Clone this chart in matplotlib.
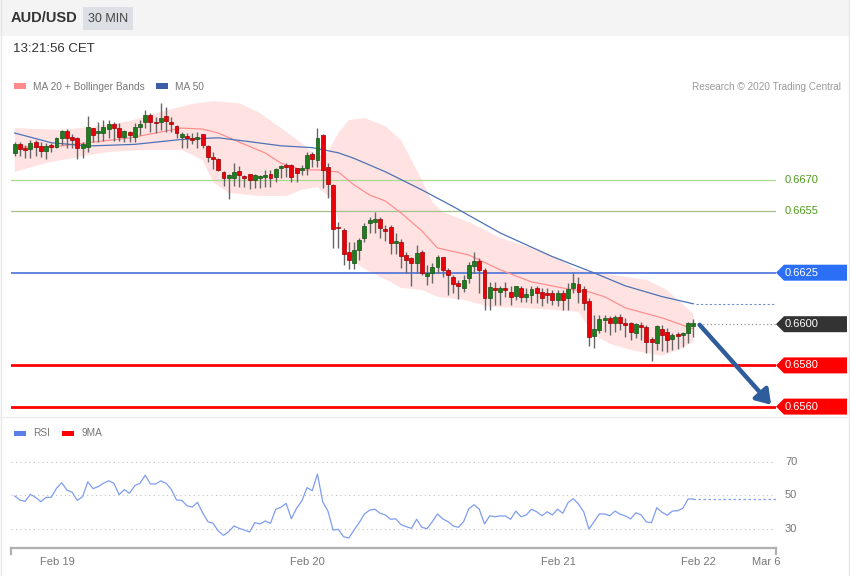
import matplotlib
matplotlib.use('Agg')
import matplotlib.pyplot as plt
import matplotlib.transforms as mtransforms
from matplotlib.patches import Polygon, Rectangle
from matplotlib.lines import Line2D
import numpy as np

plt.rcParams['font.family'] = ['Liberation Sans', 'DejaVu Sans']

# AUD/USD 30 min candles
opens = [0.66829, 0.66873, 0.66857, 0.66852, 0.66884, 0.66866, 0.66841, 0.66870, 0.66862, 0.66902,
         0.66938, 0.66910, 0.66902, 0.66854, 0.66862, 0.66951, 0.66926, 0.66929, 0.66947, 0.66970,
         0.66951, 0.66910, 0.66934, 0.66910, 0.66959, 0.66983, 0.67015, 0.66980, 0.66983, 0.67010,
         0.66983, 0.66963, 0.66910, 0.66913, 0.66902, 0.66899, 0.66922, 0.66866, 0.66810, 0.66800,
         0.66737, 0.66711, 0.66711, 0.66744, 0.66719, 0.66728, 0.66700, 0.66711, 0.66716, 0.66728,
         0.66716, 0.66760, 0.66773, 0.66773, 0.66757, 0.66749, 0.66760, 0.66825, 0.66797, 0.66918,
         0.66762, 0.66676, 0.66474, 0.66458, 0.66352, 0.66299, 0.66360, 0.66417, 0.66490, 0.66498,
         0.66509, 0.66462, 0.66471, 0.66393, 0.66401, 0.66336, 0.66320, 0.66299, 0.66352, 0.66236,
         0.66247, 0.66280, 0.66325, 0.66263, 0.66231, 0.66202, 0.66175, 0.66223, 0.66283, 0.66309,
         0.66263, 0.66126, 0.66175, 0.66158, 0.66175, 0.66158, 0.66137, 0.66175, 0.66134, 0.66142,
         0.66175, 0.66158, 0.66150, 0.66150, 0.66118, 0.66150, 0.66126, 0.66175, 0.66194, 0.66170,
         0.66115, 0.65943, 0.65973, 0.66018, 0.66029, 0.66008, 0.66037, 0.66008, 0.66005, 0.65959,
         0.65997, 0.65986, 0.65927, 0.65908, 0.65976, 0.65964, 0.65927, 0.65953, 0.65948, 0.65956,
         0.65989]
highs = [0.66886, 0.66886, 0.66870, 0.66894, 0.66894, 0.66886, 0.66878, 0.66878, 0.66910, 0.66943,
         0.66947, 0.66922, 0.66910, 0.66886, 0.67010, 0.66954, 0.66983, 0.66991, 0.66991, 0.66983,
         0.66975, 0.66943, 0.66940, 0.66975, 0.66991, 0.67040, 0.67023, 0.67007, 0.67072, 0.67056,
         0.67007, 0.66967, 0.66934, 0.66926, 0.66926, 0.66934, 0.66925, 0.66870, 0.66837, 0.66805,
         0.66744, 0.66730, 0.66781, 0.66769, 0.66724, 0.66730, 0.66728, 0.66724, 0.66749, 0.66749,
         0.66757, 0.66773, 0.66781, 0.66776, 0.66760, 0.66773, 0.66834, 0.66837, 0.66951, 0.66925,
         0.66781, 0.66680, 0.66498, 0.66467, 0.66401, 0.66401, 0.66417, 0.66490, 0.66522, 0.66546,
         0.66519, 0.66482, 0.66482, 0.66441, 0.66412, 0.66352, 0.66328, 0.66385, 0.66360, 0.66288,
         0.66296, 0.66336, 0.66328, 0.66272, 0.66239, 0.66215, 0.66239, 0.66304, 0.66352, 0.66320,
         0.66272, 0.66207, 0.66207, 0.66183, 0.66207, 0.66183, 0.66186, 0.66183, 0.66175, 0.66183,
         0.66183, 0.66175, 0.66175, 0.66166, 0.66166, 0.66166, 0.66202, 0.66247, 0.66231, 0.66183,
         0.66128, 0.66045, 0.66045, 0.66045, 0.66040, 0.66045, 0.66050, 0.66029, 0.66013, 0.66005,
         0.66013, 0.65997, 0.65940, 0.65997, 0.65997, 0.65981, 0.65956, 0.65964, 0.65964, 0.66013,
         0.66024]
lows = [0.66816, 0.66816, 0.66808, 0.66808, 0.66816, 0.66812, 0.66802, 0.66837, 0.66857, 0.66870,
        0.66857, 0.66857, 0.66800, 0.66808, 0.66834, 0.66886, 0.66886, 0.66889, 0.66902, 0.66889,
        0.66889, 0.66886, 0.66886, 0.66886, 0.66918, 0.66951, 0.66934, 0.66926, 0.66943, 0.66934,
        0.66934, 0.66902, 0.66857, 0.66854, 0.66873, 0.66854, 0.66854, 0.66789, 0.66753, 0.66744,
        0.66672, 0.66608, 0.66672, 0.66668, 0.66668, 0.66656, 0.66660, 0.66660, 0.66668, 0.66668,
        0.66689, 0.66708, 0.66716, 0.66689, 0.66689, 0.66724, 0.66724, 0.66765, 0.66765, 0.66660,
        0.66611, 0.66369, 0.66369, 0.66288, 0.66267, 0.66267, 0.66312, 0.66401, 0.66441, 0.66441,
        0.66417, 0.66406, 0.66341, 0.66341, 0.66272, 0.66247, 0.66183, 0.66250, 0.66239, 0.66191,
        0.66199, 0.66247, 0.66231, 0.66142, 0.66150, 0.66121, 0.66158, 0.66199, 0.66247, 0.66150,
        0.66070, 0.66070, 0.66094, 0.66094, 0.66134, 0.66094, 0.66118, 0.66110, 0.66110, 0.66102,
        0.66102, 0.66086, 0.66102, 0.66094, 0.66086, 0.66070, 0.66070, 0.66150, 0.66102, 0.66070,
        0.65892, 0.65884, 0.65956, 0.65964, 0.65948, 0.65964, 0.65973, 0.65940, 0.65924, 0.65932,
        0.65924, 0.65860, 0.65819, 0.65875, 0.65872, 0.65867, 0.65875, 0.65879, 0.65889, 0.65908,
        0.65937]
closes = [0.66873, 0.66850, 0.66846, 0.66881, 0.66862, 0.66841, 0.66866, 0.66862, 0.66905, 0.66938,
          0.66902, 0.66894, 0.66857, 0.66873, 0.66956, 0.66918, 0.66938, 0.66957, 0.66970, 0.66951,
          0.66910, 0.66938, 0.66918, 0.66957, 0.66970, 0.67015, 0.66980, 0.66975, 0.66999, 0.66988,
          0.66970, 0.66926, 0.66922, 0.66902, 0.66894, 0.66910, 0.66870, 0.66813, 0.66800, 0.66749,
          0.66711, 0.66724, 0.66740, 0.66724, 0.66708, 0.66700, 0.66724, 0.66719, 0.66724, 0.66711,
          0.66753, 0.66769, 0.66765, 0.66716, 0.66732, 0.66760, 0.66821, 0.66802, 0.66905, 0.66749,
          0.66681, 0.66461, 0.66466, 0.66341, 0.66312, 0.66360, 0.66409, 0.66477, 0.66506, 0.66509,
          0.66466, 0.66454, 0.66396, 0.66404, 0.66331, 0.66312, 0.66299, 0.66347, 0.66247, 0.66247,
          0.66280, 0.66328, 0.66263, 0.66239, 0.66196, 0.66186, 0.66215, 0.66288, 0.66309, 0.66263,
          0.66126, 0.66180, 0.66166, 0.66175, 0.66166, 0.66134, 0.66183, 0.66134, 0.66147, 0.66170,
          0.66150, 0.66126, 0.66142, 0.66118, 0.66150, 0.66116, 0.66170, 0.66199, 0.66158, 0.66102,
          0.65937, 0.65976, 0.66024, 0.66029, 0.66005, 0.66037, 0.66005, 0.65997, 0.65964, 0.66002,
          0.65986, 0.65916, 0.65916, 0.65989, 0.65948, 0.65924, 0.65948, 0.65945, 0.65959, 0.66008,
          0.66005]

# MA 20, Bollinger Bands and MA 50, sampled at candle numbers
ma20_x = [0, 7, 15, 22, 28, 32, 36, 39, 43, 48, 51, 55, 58, 62, 65, 68, 71, 74, 78, 81,
          87, 93, 99, 106, 110, 113, 117, 124, 130]
ma20 = [0.66860, 0.66860, 0.66884, 0.66904, 0.66933, 0.66952, 0.66947, 0.66928, 0.66884, 0.66831,
        0.66782, 0.66749, 0.66749, 0.66739, 0.66676, 0.66627, 0.66598, 0.66540, 0.66453, 0.66370,
        0.66336, 0.66264, 0.66205, 0.66171, 0.66157, 0.66133, 0.66079, 0.66031, 0.65977]
ma50_x = [0, 7, 14, 23, 32, 39, 45, 51, 57, 62, 65, 71, 78, 84, 93, 103, 111, 117, 124, 130]
ma50 = [0.66928, 0.66881, 0.66865, 0.66873, 0.66897, 0.66905, 0.66886, 0.66866, 0.66857, 0.66832,
        0.66805, 0.66740, 0.66652, 0.66571, 0.66443, 0.66328, 0.66249, 0.66186, 0.66134, 0.66099]
bb_up_x = [0, 9, 16, 22, 28, 34, 38, 43, 47, 51, 55, 58, 60, 62, 64, 67, 71, 74, 76, 78,
           80, 82, 87, 93, 99, 104, 107, 110, 116, 121, 125, 127, 130]
bb_up = [0.66952, 0.66943, 0.66962, 0.66986, 0.67030, 0.67069, 0.67083, 0.67073, 0.67025, 0.66952,
         0.66879, 0.66812, 0.66836, 0.66928, 0.66991, 0.67001, 0.66962, 0.66894, 0.66797, 0.66700,
         0.66593, 0.66545, 0.66496, 0.66419, 0.66370, 0.66322, 0.66273, 0.66254, 0.66234, 0.66215,
         0.66166, 0.66118, 0.66050]
bb_lo_x = [0, 6, 13, 18, 25, 32, 36, 38, 41, 47, 52, 55, 58, 61, 63, 65, 68, 72, 74, 78,
           81, 86, 91, 97, 103, 108, 111, 114, 118, 124, 127, 130]
bb_lo = [0.66739, 0.66782, 0.66816, 0.66836, 0.66846, 0.66846, 0.66797, 0.66690, 0.66637, 0.66622,
         0.66622, 0.66652, 0.66666, 0.66603, 0.66409, 0.66302, 0.66254, 0.66205, 0.66176, 0.66166,
         0.66133, 0.66118, 0.66084, 0.66079, 0.66070, 0.66060, 0.65948, 0.65905, 0.65875, 0.65846,
         0.65875, 0.65914]

rsi = [49.7, 47.3, 46.5, 50.7, 48.9, 46.3, 48.9, 48.9, 54.3, 57.6,
       53.3, 51.9, 47.1, 49.3, 58.2, 54.1, 55.3, 57.3, 58.8, 57.3,
       50.5, 53.5, 51.3, 55.9, 57.3, 62.1, 56.9, 56.9, 58.7, 57.3,
       53.7, 47.3, 47.1, 43.9, 43.1, 45.9, 39.7, 34.4, 33.4, 28.8,
       26.2, 28.4, 31.8, 30.4, 29.4, 28.2, 33.8, 33.0, 34.8, 33.4,
       41.8, 43.0, 45.3, 36.1, 42.4, 46.7, 54.7, 52.9, 62.8, 46.3,
       40.7, 29.4, 29.8, 25.4, 24.6, 29.4, 33.8, 39.0, 41.3, 41.8,
       39.4, 38.4, 35.8, 36.1, 32.6, 31.4, 30.4, 35.8, 31.0, 30.2,
       34.4, 39.0, 36.0, 34.4, 31.8, 31.0, 34.4, 42.1, 44.5, 41.8,
       33.0, 37.9, 37.3, 37.8, 37.8, 35.8, 40.7, 37.3, 38.4, 41.8,
       40.3, 37.9, 40.3, 38.4, 41.8, 39.4, 45.7, 48.1, 44.9, 40.3,
       30.0, 34.4, 39.0, 39.0, 37.9, 40.7, 38.8, 37.8, 36.0, 39.7,
       38.4, 34.2, 33.8, 42.7, 40.0, 38.2, 40.7, 40.9, 42.4, 47.9,
       47.9]

res_levels = [0.6670, 0.6655]
pivot_level = 0.6625
last_price = 0.6600
sup_levels = [0.6580, 0.6560]
rsi_levels = [70, 50, 30]
date_pos = [8.1, 56.0, 104.1, 130.9, 143.9]
date_labels = ['Feb 19', 'Feb 20', 'Feb 21', 'Feb 22', 'Mar 6']

W, H = 850, 576
XMIN, XMAX = -0.71, 145.84
YMIN, YMAX = 0.655495, 0.671126


def fx(x):
    return x / W


def fy(y):
    return 1 - y / H


fig = plt.figure(figsize=(W / 100, H / 100), dpi=100)
fig.patch.set_facecolor('white')

# header band + frame
fig.add_artist(Rectangle((0, fy(36)), 1, 36 / H, transform=fig.transFigure,
                         facecolor='#f4f4f4', edgecolor='none', zorder=0))
fig.add_artist(Rectangle((fx(83), fy(30)), fx(50), 23 / H, transform=fig.transFigure,
                         facecolor='#dcdfe4', edgecolor='none', zorder=1))
for xx in [0.5, 848.5]:
    fig.add_artist(Line2D([fx(xx), fx(xx)], [0, 1], color='#e6e6e6', lw=1))
fig.add_artist(Line2D([0, 1], [fy(417), fy(417)], color='#ebebeb', lw=1))

fig.text(fx(11), fy(18.5), 'AUD/USD', fontsize=10.5, fontweight='bold', color='#333333', va='center')
fig.text(fx(108), fy(19), '30 MIN', fontsize=9, color='#444444', va='center', ha='center')
fig.text(fx(13), fy(49), '13:21:56 CET', fontsize=9.5, color='#333333', va='center')

# legends
fig.add_artist(Rectangle((fx(14), fy(88.5)), fx(12), 5 / H, facecolor='#ff8a8a', edgecolor='none'))
fig.text(fx(33), fy(86.5), 'MA 20 + Bollinger Bands', fontsize=7.3, color='#777777', va='center')
fig.add_artist(Rectangle((fx(156), fy(88.5)), fx(12), 5 / H, facecolor='#3b5ea6', edgecolor='none'))
fig.text(fx(175), fy(86.5), 'MA 50', fontsize=7.3, color='#777777', va='center')
fig.text(fx(841), fy(86.5), 'Research \u00a9 2020 Trading Central', fontsize=7.2,
         color='#9a9a9a', va='center', ha='right')

fig.add_artist(Rectangle((fx(14), fy(435.5)), fx(12), 5 / H, facecolor='#5b7fe6', edgecolor='none'))
fig.text(fx(33), fy(433.5), 'RSI', fontsize=7.3, color='#777777', va='center')
fig.add_artist(Rectangle((fx(62), fy(435.5)), fx(12), 5 / H, facecolor='#ff0000', edgecolor='none'))
fig.text(fx(82), fy(433.5), '9MA', fontsize=7.3, color='#777777', va='center')

# ---- price panel ----
ax = fig.add_axes([fx(11), fy(417), fx(776) - fx(11), (417 - 95) / H])
ax.set_xlim(XMIN, XMAX)
ax.set_ylim(YMIN, YMAX)
ax.axis('off')

o, h, l, c = map(np.array, (opens, highs, lows, closes))
idx = np.arange(len(o))

ax.fill(np.r_[bb_up_x, bb_lo_x[::-1]], np.r_[bb_up, bb_lo[::-1]],
        color='#ffe3e3', lw=0, zorder=1)
ax.plot(ma20_x, ma20, color='#ff8f8f', lw=0.9, zorder=3)
ax.plot(ma50_x, ma50, color='#4d72b5', lw=0.9, zorder=3)
ax.plot([ma50_x[-1] + 0.5, XMAX], [ma50[-1], ma50[-1]], color='#6f8fd0',
        lw=0.8, ls=(0, (2, 2)), zorder=3)

for lv, col in zip(res_levels, ['#a9d98c', '#a6c08c']):
    ax.axhline(lv, color=col, lw=0.9, zorder=2)
ax.axhline(pivot_level, color='#4a72d8', lw=1.2, zorder=2)
for lv in sup_levels:
    ax.axhline(lv, color='#ff0000', lw=2, zorder=2)
ax.plot([idx[-1] + 1, XMAX], [last_price, last_price], color='#999999',
        lw=0.9, ls=(0, (1, 2)), zorder=2)

up = c >= o
ax.vlines(idx, l, h, color='#666666', lw=1.0, zorder=4)
ax.bar(idx, np.maximum(np.abs(c - o), 0.00005), 0.75, np.minimum(o, c),
       color=np.where(up, '#1f7d1f', '#e8000b'),
       edgecolor=np.where(up, '#145214', '#9a0000'), linewidth=0.5, zorder=5)

# right-hand labels
tr = mtransforms.blended_transform_factory(fig.transFigure, ax.transData)
px = (YMAX - YMIN) / (417 - 95)
half = 8 * px


def tag(y, txt, col):
    pts = [(fx(776), y), (fx(784), y + half), (fx(847), y + half),
           (fx(847), y - half), (fx(784), y - half)]
    ax.add_patch(Polygon(pts, closed=True, transform=tr, facecolor=col,
                         edgecolor='none', clip_on=False, zorder=6))
    ax.text(fx(785), y, txt, transform=tr, color='white', fontsize=8,
            va='center', ha='left', zorder=7)


for lv in res_levels:
    ax.text(fx(785), lv, f'{lv:.4f}', transform=tr, color='#4e9a1c', fontsize=8, va='center')
tag(pivot_level, f'{pivot_level:.4f}', '#2a6ff5')
tag(last_price, f'{last_price:.4f}', '#333333')
for lv in sup_levels:
    tag(lv, f'{lv:.4f}', '#ff0000')

ax.annotate('', xy=(144.9, 0.65609), xytext=(131.2, 0.65997),
            arrowprops=dict(arrowstyle='-|>,head_length=0.6,head_width=0.4',
                            color='#2f5d9b', lw=3.2, mutation_scale=14,
                            shrinkA=0, shrinkB=0),
            annotation_clip=False, zorder=6)

# ---- RSI panel ----
ax2 = fig.add_axes([fx(11), fy(548), fx(776) - fx(11), (548 - 440) / H])
ax2.set_xlim(XMIN, XMAX)
ax2.set_ylim(18.66, 83.13)
ax2.set_facecolor('none')
for s in ['top', 'right', 'left']:
    ax2.spines[s].set_visible(False)
ax2.spines['bottom'].set_color('#b0b0b0')
ax2.spines['bottom'].set_linewidth(1.6)
ax2.set_yticks([])
ax2.set_xticks(date_pos)
ax2.set_xticklabels(date_labels, fontsize=8, color='#777777')
ax2.tick_params(axis='x', length=0, pad=6.5)

ax2.hlines(rsi_levels, XMIN, XMAX, color='#c2c2c2', lw=0.8, linestyles=[(0, (1, 3))])
tr2 = mtransforms.blended_transform_factory(fig.transFigure, ax2.transData)
for lv in rsi_levels:
    ax2.text(fx(785), lv, str(lv), transform=tr2, color='#777777', fontsize=8, va='center')

ax2.plot(idx, rsi, color='#7f9df0', lw=0.9)
ax2.plot([idx[-1], XMAX], [rsi[-1], rsi[-1]], color='#7f9df0', lw=0.9, ls=(0, (2, 2)))

for xx in [11, 776]:
    fig.add_artist(Line2D([fx(xx), fx(xx)], [fy(548), fy(554)], color='#b0b0b0', lw=1.6))

fig.savefig('out.png', dpi=100)
